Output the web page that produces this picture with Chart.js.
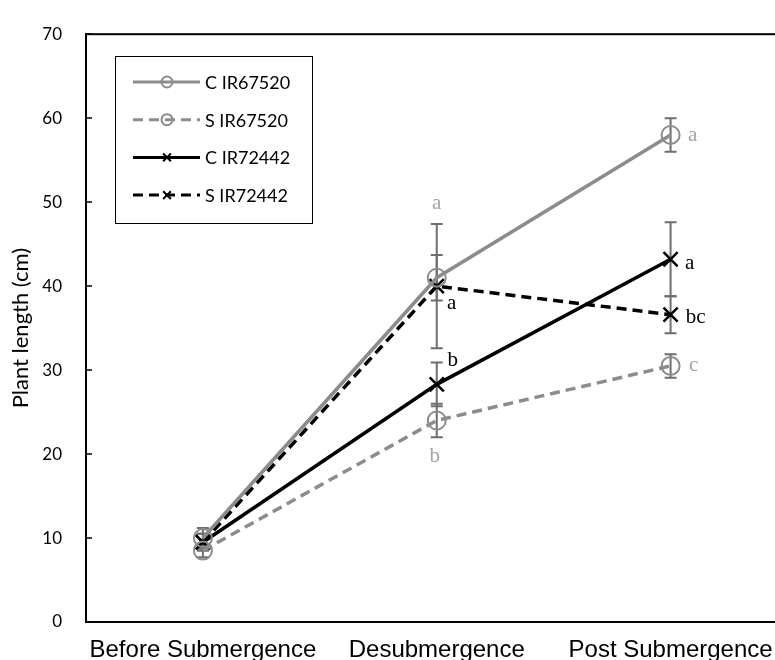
<!DOCTYPE html>
<html>
<head>
<meta charset="utf-8">
<title>Plant length</title>
<script src="https://cdn.jsdelivr.net/npm/chart.js@4"></script>
<style>
  html, body { margin: 0; padding: 0; background: #fff; overflow: hidden; }
  #wrap { width: 800px; height: 660px; }
</style>
</head>
<body>
<div id="wrap"><canvas id="grafico" width="800" height="660"></canvas></div>
<script>
const etapas = ["Before Submergence", "Desubmergence", "Post Submergence"];
const yTicks = [0, 10, 20, 30, 40, 50, 60, 70];

const cIR67520 = [10.0, 41.0, 58.0];
const sIR67520 = [8.5, 24.0, 30.5];
const cIR72442 = [9.5, 28.3, 43.2];
const sIR72442 = [9.5, 40.0, 36.6];

const errCIR67520 = [1.2, 2.7, 2.0];
const errSIR67520 = [0.8, 2.0, 1.4];
const errCIR72442 = [1.0, 2.6, 4.4];
const errSIR72442 = [1.0, 7.4, 2.2];

const letrasCIR67520 = ["", "a", "a"];
const letrasSIR67520 = ["", "b", "c"];
const letrasCIR72442 = ["", "b", "a"];
const letrasSIR72442 = ["", "a", "bc"];

const GRIS = "#8c8c8c";
const GRIS_LETRA = "#a3a3a3";
const GRIS_ERROR = "#6e6e6e";

// pixel offsets of each letter from its point
const posLetras = [
  [null, [0, -74], [22, 1]],
  [null, [-2, 36], [23, 0]],
  [null, [16, -24], [19, 4]],
  [null, [15, 17], [25, 3]]
];

function serie(label, data, color, dash, estilo, radio, errores, letras, colorLetra) {
  return {
    label,
    data,
    borderColor: color,
    borderWidth: 3.5,
    borderDash: dash,
    pointStyle: estilo,
    pointRadius: radio,
    pointHoverRadius: radio,
    pointBorderColor: estilo === "circle" ? GRIS : "#000",
    pointBackgroundColor: "rgba(0,0,0,0)",
    pointBorderWidth: estilo === "circle" ? 2 : 2.5,
    tension: 0,
    fill: false,
    errores,
    letras,
    colorLetra
  };
}

const datasets = [
  serie("C IR67520", cIR67520, GRIS, [], "circle", 9, errCIR67520, letrasCIR67520, GRIS_LETRA),
  serie("S IR67520", sIR67520, GRIS, [10, 6], "circle", 9, errSIR67520, letrasSIR67520, GRIS_LETRA),
  serie("C IR72442", cIR72442, "#000", [], "crossRot", 10, errCIR72442, letrasCIR72442, "#000"),
  serie("S IR72442", sIR72442, "#000", [10, 6], "crossRot", 10, errSIR72442, letrasSIR72442, "#000")
];

const barrasError = {
  id: "barrasError",
  beforeDatasetsDraw(chart) {
    const ctx = chart.ctx;
    const y = chart.scales.y;
    ctx.save();
    ctx.strokeStyle = GRIS_ERROR;
    ctx.lineWidth = 2;
    chart.data.datasets.forEach((ds, i) => {
      chart.getDatasetMeta(i).data.forEach((pt, j) => {
        const e = ds.errores[j];
        const arriba = y.getPixelForValue(ds.data[j] + e);
        const abajo = y.getPixelForValue(ds.data[j] - e);
        ctx.beginPath();
        ctx.moveTo(pt.x, arriba);
        ctx.lineTo(pt.x, abajo);
        ctx.moveTo(pt.x - 6, arriba);
        ctx.lineTo(pt.x + 6, arriba);
        ctx.moveTo(pt.x - 6, abajo);
        ctx.lineTo(pt.x + 6, abajo);
        ctx.stroke();
      });
    });
    ctx.restore();
  }
};

const letras = {
  id: "letras",
  afterDatasetsDraw(chart) {
    const ctx = chart.ctx;
    ctx.save();
    ctx.font = "21px 'Liberation Serif'";
    ctx.textAlign = "center";
    ctx.textBaseline = "middle";
    chart.data.datasets.forEach((ds, i) => {
      chart.getDatasetMeta(i).data.forEach((pt, j) => {
        const off = posLetras[i][j];
        if (!ds.letras[j] || !off) return;
        ctx.fillStyle = ds.colorLetra;
        ctx.fillText(ds.letras[j], pt.x + off[0], pt.y + off[1]);
      });
    });
    ctx.restore();
  }
};

const marco = {
  id: "marco",
  afterDraw(chart) {
    const ctx = chart.ctx;
    const a = chart.chartArea;
    const y = chart.scales.y;
    ctx.save();
    ctx.strokeStyle = "#000";
    ctx.lineWidth = 2;
    ctx.strokeRect(a.left, a.top, a.right - a.left, a.bottom - a.top);
    // short inward tick marks on the value axis
    ctx.beginPath();
    yTicks.forEach((v) => {
      const py = Math.round(y.getPixelForValue(v));
      ctx.moveTo(a.left, py);
      ctx.lineTo(a.left + 6, py);
    });
    ctx.lineWidth = 1.5;
    ctx.stroke();
    ctx.restore();
  }
};

const leyenda = {
  id: "leyenda",
  afterDraw(chart) {
    const ctx = chart.ctx;
    ctx.save();
    ctx.fillStyle = "#fff";
    ctx.fillRect(115, 56, 197, 167);
    ctx.strokeStyle = "#000";
    ctx.lineWidth = 1;
    ctx.strokeRect(115.5, 56.5, 197, 167);
    chart.data.datasets.forEach((ds, i) => {
      const fy = 82 + i * 37.7;
      ctx.strokeStyle = ds.borderColor;
      ctx.lineWidth = 3;
      ctx.setLineDash(ds.borderDash);
      ctx.beginPath();
      ctx.moveTo(133, fy);
      ctx.lineTo(200, fy);
      ctx.stroke();
      ctx.setLineDash([]);
      ctx.strokeStyle = ds.pointBorderColor;
      ctx.fillStyle = "rgba(0,0,0,0)";
      ctx.lineWidth = 2;
      Chart.helpers.drawPoint(ctx, {
        pointStyle: ds.pointStyle,
        radius: 5.5,
        rotation: 0,
        borderWidth: 2
      }, 167, fy);
      ctx.fillStyle = "#000";
      ctx.font = "18px Lato";
      ctx.textAlign = "left";
      ctx.textBaseline = "middle";
      ctx.fillText(ds.label, 205, fy + 1);
    });
    ctx.restore();
  }
};

new Chart(document.getElementById("grafico").getContext("2d"), {
  type: "line",
  data: { labels: etapas, datasets },
  plugins: [barrasError, letras, marco, leyenda],
  options: {
    responsive: false,
    animation: false,
    layout: { padding: { top: 26, right: 10, left: 0, bottom: 0 } },
    plugins: {
      legend: { display: false },
      tooltip: { enabled: false }
    },
    scales: {
      x: {
        type: "category",
        offset: true,
        grid: { display: false, drawTicks: false },
        border: { display: true, color: "#000", width: 2 },
        ticks: {
          color: "#000",
          padding: 14,
          maxRotation: 0,
          autoSkip: false,
          font: { family: "'Liberation Sans', Arial", size: 24 }
        },
        afterFit(scale) { scale.height = 38; }
      },
      y: {
        min: 0,
        max: 70,
        grid: { drawOnChartArea: false, drawTicks: false },
        border: { display: true, color: "#000", width: 2 },
        ticks: {
          stepSize: 10,
          color: "#000",
          padding: 24,
          font: { family: "Lato", size: 17 }
        },
        title: {
          display: true,
          text: "Plant length (cm)",
          color: "#000",
          padding: { top: 8, bottom: 0 },
          font: { family: "Lato", size: 22 }
        },
        afterFit(scale) { scale.width = 86; }
      }
    }
  }
});
</script>
</body>
</html>
